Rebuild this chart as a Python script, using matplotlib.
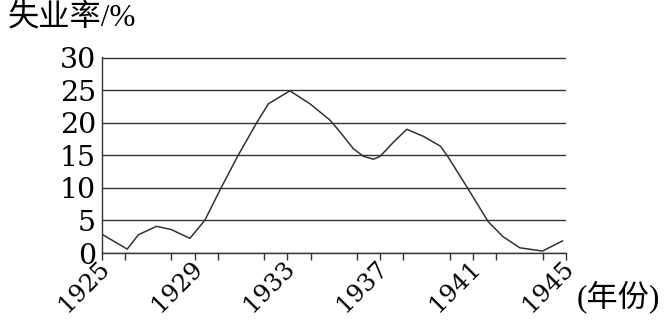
import matplotlib
matplotlib.use("Agg")
import matplotlib.pyplot as plt
import matplotlib.transforms as mtransforms
from matplotlib.ticker import MultipleLocator

# unemployment rate (year, %)
years = [1925.0, 1925.43, 1926.1, 1926.58, 1927.36, 1928.0, 1928.8, 1929.44,
         1930.13, 1930.88, 1931.68, 1932.18, 1933.11, 1933.98, 1934.84,
         1935.27, 1935.85, 1936.28, 1936.71, 1937.0, 1937.57, 1938.15,
         1938.87, 1939.6, 1939.92, 1940.8, 1941.66, 1942.3, 1943.02,
         1944.0, 1944.86]
rate = [2.9, 2.0, 0.6, 2.8, 4.1, 3.6, 2.25, 5.0,
        9.9, 15.0, 20.0, 22.9, 24.9, 22.9, 20.4,
        18.6, 16.0, 14.85, 14.4, 14.85, 17.0, 19.0,
        17.9, 16.4, 14.8, 9.8, 4.8, 2.5, 0.8,
        0.3, 1.85]
major_years = [1925, 1929, 1933, 1937, 1941, 1945]
y_ticks = [0, 5, 10, 15, 20, 25, 30]

plt.rcParams['font.family'] = ['Liberation Serif', 'Noto Sans CJK SC']
digits = ['DejaVu Serif']

fig = plt.figure(figsize=(6.64, 3.23), dpi=100)
ax = fig.add_axes([0.1532, 0.2167, 0.6988, 0.6059])

ax.plot(years, rate, color='#333333', lw=1.1)

ax.set_xlim(1925, 1945)
ax.set_ylim(0, 30.05)
ax.set_xticks(major_years)
ax.xaxis.set_minor_locator(MultipleLocator(2))
ax.set_yticks(y_ticks)
ax.yaxis.grid(True, color='#333333', lw=1.0)
ax.set_axisbelow(True)

for s in ['top', 'right']:
    ax.spines[s].set_visible(False)
for s in ['left', 'bottom']:
    ax.spines[s].set_color('#333333')
    ax.spines[s].set_linewidth(1.0)

ax.tick_params(axis='y', length=0, pad=4)
ax.tick_params(axis='x', which='both', direction='out', length=5,
               width=1.0, color='#333333', pad=0)
ax.set_yticklabels([str(v) for v in y_ticks], fontfamily=digits, fontsize=20.5)
ax.set_xticklabels([str(y) for y in major_years], rotation=45, ha='right',
                   va='top', rotation_mode='anchor',
                   fontfamily=digits, fontsize=17.5)
# nudge year labels a little left/up so they stay inside the picture
shift = mtransforms.ScaledTranslation(-4 / 100, 3 / 100, fig.dpi_scale_trans)
for lbl in ax.get_xticklabels():
    lbl.set_transform(lbl.get_transform() + shift)

fig.text(0.011, 0.985, '失业率/%', ha='left', va='top', fontsize=22.5)
fig.text(0.868, 0.08, '(年份)', ha='left', va='center', fontsize=22.5)

fig.savefig('out.png', dpi=100)
